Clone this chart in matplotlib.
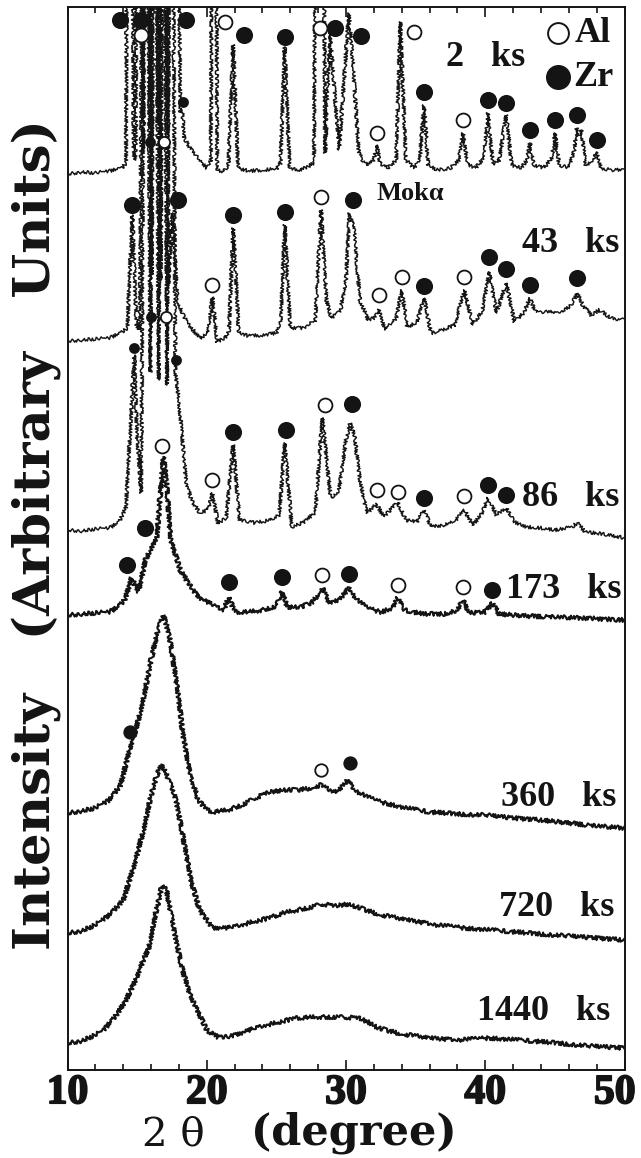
import numpy as np
import matplotlib
matplotlib.use("Agg")
import matplotlib.pyplot as plt
import matplotlib.patheffects as pe
import matplotlib.transforms as mtransforms
from matplotlib.ticker import MultipleLocator

INK = "#141414"
OFF = 1000  # off-scale reflections, clipped by the frame

# XRD patterns after milling time (ks), intensity above each baseline (a.u.)
samples = ["2", "43", "86", "173", "360", "720", "1440"]
offsets = [897, 730, 540, 455, 257, 137, 27]

p_2 = [(10.0, -1), (11, 1), (12, 0), (13, 2), (13.9, 5), (14.2, 10), (14.45, OFF), (14.75, 16),
       (14.9, 13), (15.15, OFF), (15.45, 23), (15.7, OFF), (15.95, 45), (16.2, OFF), (16.5, 50),
       (16.8, OFF), (17.15, 45), (17.5, OFF), (18.1, 61), (18.25, 63), (18.35, 36), (18.8, 25),
       (19.4, 15), (20.0, 5), (20.3, 13), (20.5, OFF), (20.75, 3), (21.2, 1), (21.55, 8),
       (21.9, 128), (22.25, 5), (23, 2), (24, 3), (25, 4), (25.3, 10), (25.6, 126), (25.95, 5),
       (26.8, 3), (27.7, 10), (28.1, OFF), (28.5, 20), (28.85, 140), (29.5, 23), (30.2, 160),
       (30.5, 110), (30.9, 23), (31.2, 11), (31.6, 8), (32.0, 13), (32.2, 28), (32.45, 10),
       (33.0, 5), (33.6, 13), (33.9, 151), (34.15, 63), (34.3, 13), (34.9, 5), (35.3, 13),
       (35.6, 68), (35.9, 8), (36.5, 3), (37.5, 5), (38.1, 13), (38.4, 40), (38.75, 8), (39.3, 5),
       (39.9, 15), (40.2, 60), (40.55, 8), (41.0, 13), (41.5, 58), (41.9, 8), (42.6, 5),
       (43.0, 13), (43.2, 30), (43.5, 8), (44.2, 5), (44.8, 15), (45.0, 40), (45.3, 8), (46.0, 5),
       (46.4, 23), (46.55, 45), (46.75, 38), (46.9, 43), (47.2, 8), (47.8, 13), (48.0, 21),
       (48.3, 5), (49, 3), (50, 3)]

p_43 = [(10, -1), (11, 0), (12, 1), (13, 2), (13.8, 7), (14.3, 12), (14.65, 125), (14.95, 15),
        (15.2, 10), (15.6, OFF), (16.05, 65), (16.35, OFF), (16.7, 60), (17.0, OFF), (17.25, 55),
        (17.55, 127), (17.9, 37), (18.6, 17), (19.5, 2), (20.1, 7), (20.4, 43), (20.75, -2),
        (21.3, 2), (21.6, 10), (21.9, 112), (22.3, 7), (23, 4), (24, 5), (25, 7), (25.3, 15),
        (25.6, 115), (26.0, 12), (27, 12), (27.8, 20), (28.2, 130), (28.6, 40), (28.95, 22),
        (29.6, 30), (30.0, 60), (30.25, 127), (30.55, 115), (31.0, 40), (31.6, 20), (32.0, 22),
        (32.35, 30), (32.8, 10), (33.6, 22), (34.0, 50), (34.4, 13), (35.1, 18), (35.6, 42),
        (36.1, 7), (37.0, 10), (37.8, 15), (38.5, 50), (39.1, 15), (39.8, 30), (40.3, 68),
        (40.8, 27), (41.5, 57), (42.1, 18), (42.8, 28), (43.2, 42), (43.6, 28), (44.5, 28),
        (45.5, 28), (46.2, 35), (46.6, 47), (47.0, 35), (47.6, 25), (48.2, 30), (49, 22), (50, 20)]

p_86 = [(10, 0), (11, -1), (12, 1), (13, 2), (13.7, 8), (14.2, 23), (14.8, 175), (15.0, 90),
        (15.3, 37), (15.65, OFF), (15.95, 158), (16.25, OFF), (16.55, 150), (16.85, OFF),
        (17.15, 145), (17.45, OFF), (17.75, 157), (18.0, 130), (18.5, 50), (18.9, 30), (19.5, 17),
        (20.1, 20), (20.4, 37), (20.8, 7), (21.4, 12), (21.9, 85), (22.35, 10), (23.5, 7),
        (24.5, 10), (25.2, 15), (25.6, 87), (26.1, 3), (27, 8), (27.8, 18), (28.3, 112),
        (28.9, 32), (29.5, 40), (30.0, 90), (30.3, 107), (30.6, 95), (31.0, 50), (31.5, 17),
        (32.2, 26), (32.7, 13), (33.7, 28), (34.3, 10), (35.1, 8), (35.6, 20), (36.1, 3),
        (37.0, 5), (37.9, 10), (38.5, 20), (39.1, 5), (39.7, 15), (40.2, 32), (40.8, 15),
        (41.5, 22), (42.1, 8), (43, 3), (44, 2), (45, 0), (46.2, 3), (46.6, 7), (47.2, -2),
        (48.5, -4), (50, -8)]

p_173 = [(10, 0), (11, 1), (12, 2), (13, 3), (13.6, 8), (14.1, 15), (14.6, 37), (15.1, 23),
         (15.6, 55), (16.1, 70), (16.4, 77), (16.9, 158), (17.1, 135), (17.4, 75), (18.1, 45),
         (19.0, 25), (19.5, 17), (20.7, 8), (21.2, 5), (21.6, 18), (22.0, 3), (23, 3), (24, 5),
         (25.0, 9), (25.4, 23), (25.8, 8), (26.8, 8), (27.6, 13), (28.3, 27), (28.8, 12),
         (29.5, 15), (30.2, 27), (30.8, 15), (31.5, 7), (32.5, 3), (33.3, 7), (33.7, 17),
         (34.2, 5), (35.5, 1), (37, 1), (38.0, 5), (38.4, 15), (38.8, 2), (40.0, 3), (40.5, 12),
         (41.0, 1), (43, -1), (45, -2), (47, -3), (50, -5)]

p_360 = [(10, 0), (11, 2), (12, 5), (13, 13), (13.8, 28), (14.5, 65), (15.0, 88), (15.5, 118),
         (16.0, 153), (16.5, 183), (16.9, 198), (17.3, 178), (17.8, 133), (18.3, 78), (18.8, 38),
         (19.4, 13), (20.0, 3), (20.5, 1), (21.5, 3), (22.5, 8), (23.5, 15), (24.5, 21),
         (25.5, 23), (26.5, 23), (27.5, 25), (28.2, 28), (28.8, 23), (29.4, 21), (30.1, 33),
         (30.6, 23), (31.5, 16), (32.5, 11), (34, 6), (36, 1), (38, -1), (40, -2), (42, -5),
         (44, -7), (46, -10), (48, -13), (50, -15)]

p_720 = [(10, 0), (11, 2), (12, 8), (13, 18), (14.0, 33), (14.8, 68), (15.4, 100), (16.0, 138),
         (16.5, 161), (16.8, 168), (17.2, 155), (17.8, 133), (18.4, 88), (18.9, 50), (19.5, 23),
         (20.4, 5), (21.5, 5), (22.5, 8), (23.5, 12), (24.5, 15), (25.5, 20), (26.5, 23),
         (27.5, 26), (28.3, 29), (29.2, 27), (30.1, 29), (31, 25), (32.5, 18), (34.5, 13),
         (36.5, 8), (38.5, 5), (40.5, 3), (43, 0), (46, -3), (50, -7)]

p_1440 = [(10, 0), (11, 2), (12, 8), (12.6, 13), (13.5, 28), (14.2, 43), (14.9, 63), (15.5, 85),
          (15.8, 93), (16.3, 128), (16.8, 158), (17.1, 153), (17.5, 123), (18.2, 76), (18.8, 48),
          (19.3, 33), (20.0, 13), (20.8, 6), (21.5, 6), (22.5, 10), (23.5, 15), (24.3, 18),
          (25.5, 22), (26.5, 25), (27.9, 26), (29.5, 26), (30.9, 25), (31.6, 21), (32.3, 15),
          (34, 9), (36.1, 5), (38, 3), (40.3, 5), (42.5, 3), (45.1, 0), (47.5, -3), (50, -5)]

patterns = [p_2, p_43, p_86, p_173, p_360, p_720, p_1440]

# phase markers (2theta, stacked intensity)
zr_big = [(13.8, 1050), (15.3, 1050), (18.5, 1050), (22.7, 1035), (25.6, 1033), (29.2, 1042),
          (31.1, 1034), (35.6, 978), (40.2, 970), (41.5, 967), (43.2, 940), (45.0, 950),
          (46.6, 955), (48.0, 930),
          (14.6, 865), (17.9, 870), (21.9, 855), (25.6, 858), (30.5, 870), (35.6, 784),
          (40.3, 813), (41.5, 801), (43.2, 785), (46.6, 792),
          (21.9, 638), (25.7, 640), (30.4, 666), (35.6, 572), (40.2, 585), (41.5, 575),
          (14.3, 505), (15.6, 542), (21.6, 488), (25.4, 493), (30.2, 496), (40.5, 480)]
zr_mid = [(14.5, 338), (30.3, 307)]
zr_small = [(18.3, 968), (15.9, 928), (14.8, 722), (16.0, 753), (17.8, 710)]
al_big = [(15.3, 1035), (21.3, 1048), (28.1, 1042), (34.9, 1038), (32.2, 937), (38.4, 950),
          (28.2, 873), (20.4, 785), (32.4, 775), (34.0, 793), (38.5, 793),
          (20.4, 590), (28.5, 665), (32.2, 580), (33.7, 578), (38.5, 574),
          (16.8, 624), (28.3, 495), (33.7, 485), (38.4, 483)]
al_mid = [(28.2, 300)]
al_small = [(16.9, 928), (17.1, 753)]

tick_vals = [10, 20, 30, 40, 50]

fig = plt.figure(figsize=(6.41, 11.58), dpi=100)
ax = fig.add_axes([67.5 / 641, 88 / 1158, 557 / 641, 1063 / 1158])

for k, (pat, off) in enumerate(zip(patterns, offsets)):
    tt, inten = np.array(pat, dtype=float).T
    broad = k >= 3   # amorphous-looking patterns have a heavier noise band
    ln, = ax.plot(tt, inten + off, color=INK, lw=1.5 if broad else 1.05)
    ln.set_sketch_params(scale=2.1 if broad else 1.7, length=1.3, randomness=4)

def dots(pts, ms, filled):
    x, y = zip(*pts)
    ax.plot(x, y, "o", ls="none", ms=ms, mec=INK, mew=1.3,
            mfc=INK if filled else "white", zorder=5)

dots(zr_big, 11, True)
dots(zr_mid, 9, True)
dots(zr_small, 6.5, True)
dots(al_big, 10, False)
dots(al_mid, 9, False)
dots(al_small, 8, False)

# phase key
ax.plot([45.2], [1037], "o", ms=15, mfc="white", mec=INK, mew=1.4, zorder=5)
ax.plot([45.2], [993], "o", ms=17, mfc=INK, mec=INK, zorder=5)
bold = dict(family="Liberation Serif", weight="bold", color=INK)
ax.text(46.4, 1037, "Al", fontsize=26, va="center", ha="left", **bold)
ax.text(46.3, 993, "Zr", fontsize=26, va="center", ha="left", **bold)

# time labels
ax.text(37.2, 1013, "2   ks", fontsize=26, va="center", ha="left", **bold)
ax.text(49.66, 827, "43   ks", fontsize=26, va="center", ha="right", **bold)
ax.text(49.66, 573, "86   ks", fontsize=26, va="center", ha="right", **bold)
ax.text(49.8, 480, "173   ks", fontsize=26, va="center", ha="right", **bold)
ax.text(49.45, 273, "360   ks", fontsize=26, va="center", ha="right", **bold)
ax.text(49.3, 163, "720   ks", fontsize=26, va="center", ha="right", **bold)
ax.text(49.0, 58, "1440   ks", fontsize=26, va="center", ha="right", **bold)
ax.text(32.2, 877, "Mokα", fontsize=19, va="center", ha="left",
        family="Liberation Serif", weight="bold", color=INK)

ax.set_xlim(10, 50)
ax.set_ylim(0, 1063)
ax.set_yticks([])
ax.set_xticks(tick_vals)
ax.set_xticklabels([])
ax.xaxis.set_minor_locator(MultipleLocator(2))
ax.tick_params(axis="x", which="both", direction="in", top=True, bottom=True,
               width=1.2, color=INK)
ax.tick_params(axis="x", which="major", length=7)
ax.tick_params(axis="x", which="minor", length=4)
for s in ax.spines.values():
    s.set_linewidth(1.4)
    s.set_color(INK)

# tick numbers drawn by hand so the last one stays inside the figure
lab_tr = mtransforms.offset_copy(ax.get_xaxis_transform(), fig=fig, y=-3, units="points")
for v in tick_vals:
    xpos = v if v < 50 else 49.3
    t = ax.text(xpos, 0, str(v), transform=lab_tr, ha="center", va="top", fontsize=30,
                family="Liberation Serif", weight="bold", color=INK)
    t.set_path_effects([pe.withStroke(linewidth=1.3, foreground=INK)])

fig.text(142 / 641, 12 / 1158, "2 θ", fontsize=29, family="DejaVu Serif",
         va="baseline", ha="left", color=INK)
fig.text(251 / 641, 14 / 1158, "(degree)", fontsize=31, family="DejaVu Serif",
         weight="bold", va="baseline", ha="left", color=INK)
fig.text(36 / 641, (1158 - 535) / 1158, "Intensity   (Arbitrary   Units)", fontsize=37,
         family="DejaVu Serif", weight="bold", rotation=90, va="center", ha="center",
         color=INK)

fig.savefig("out.png", dpi=100)
